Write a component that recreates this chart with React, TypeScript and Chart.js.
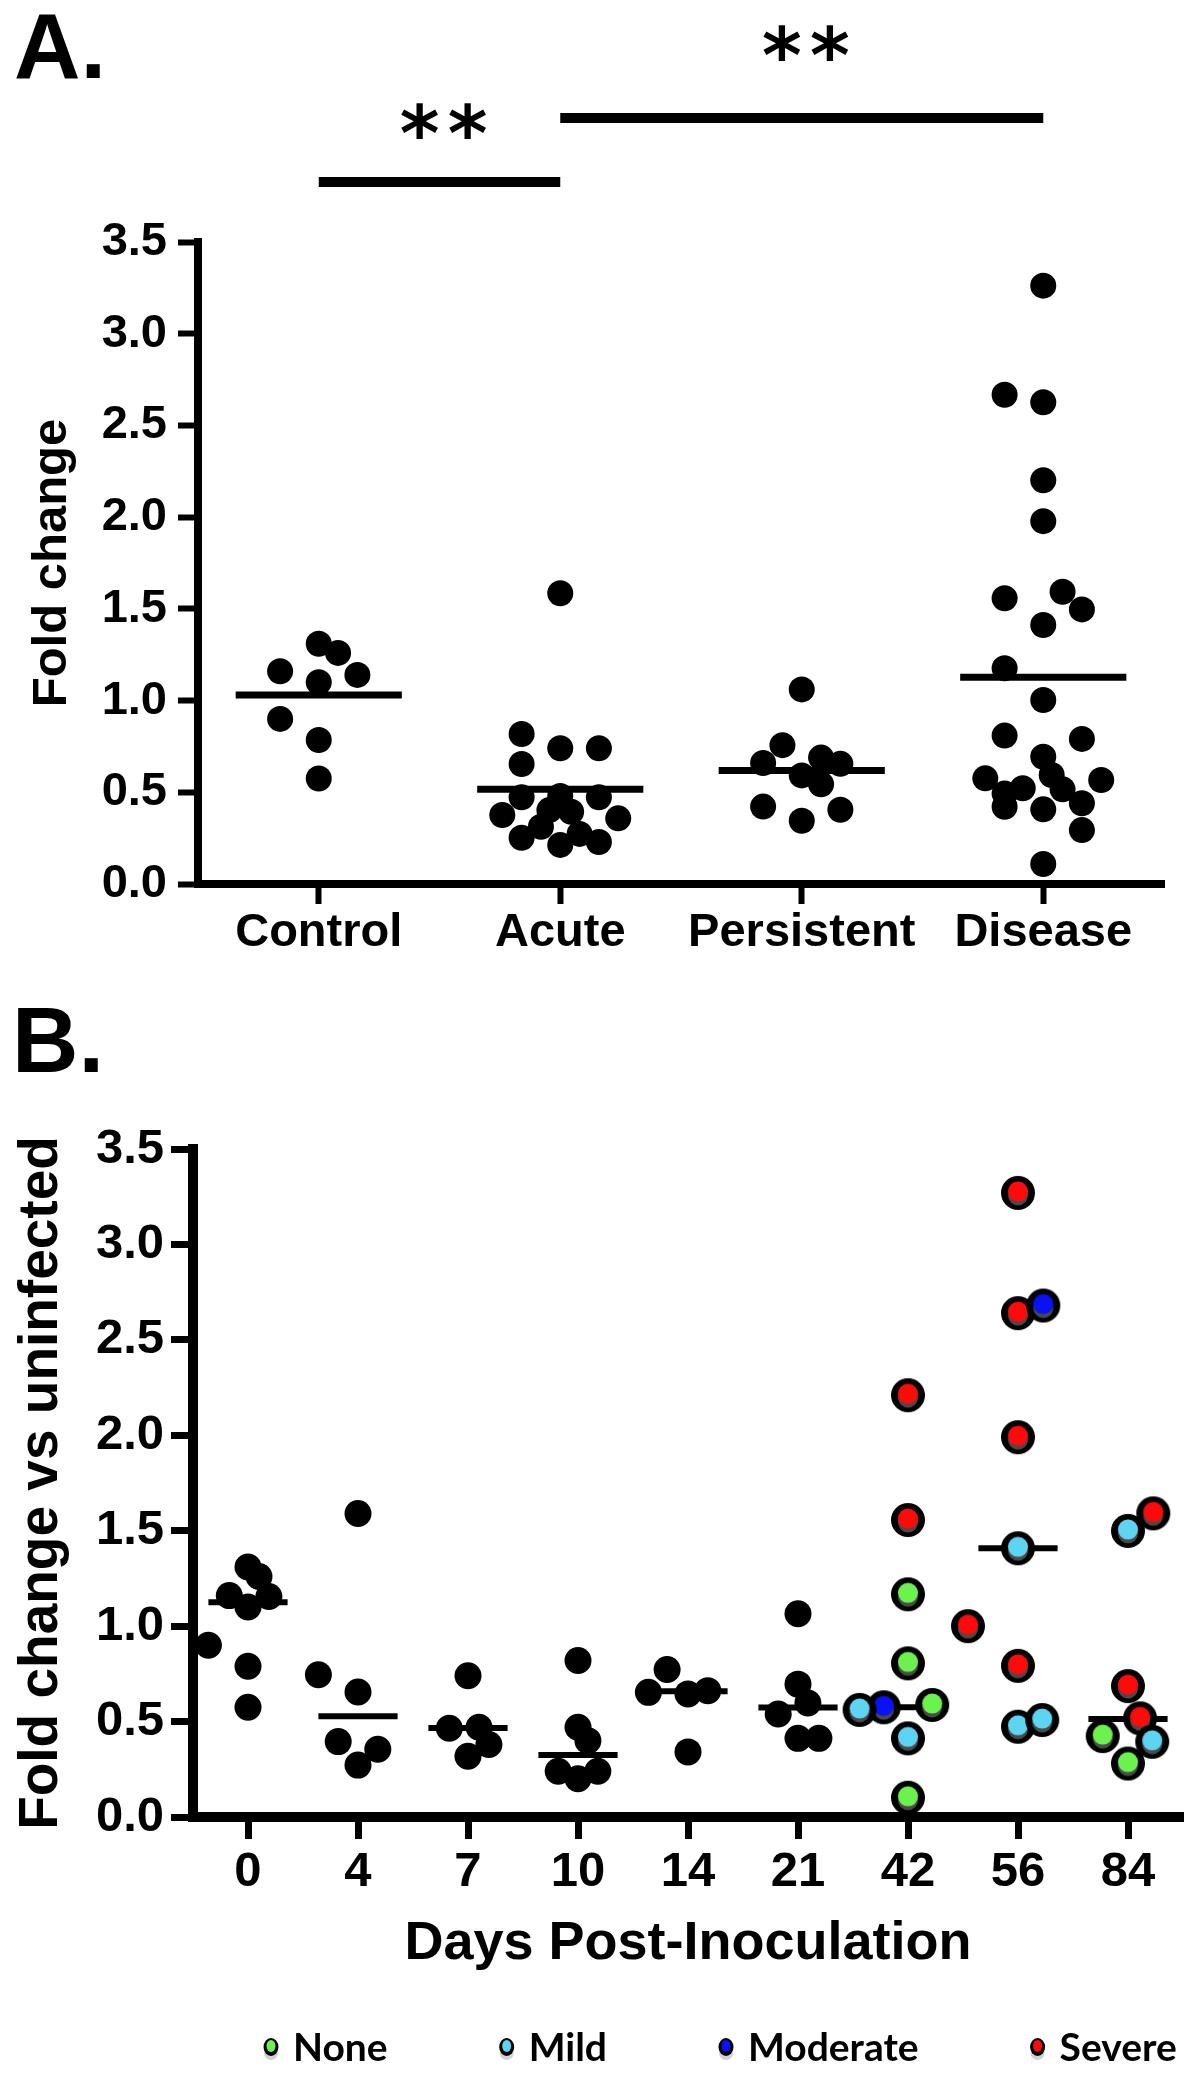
import React, { useEffect, useRef } from "react";
import { Chart, registerables } from "chart.js";

Chart.register(...registerables);

const FONT = "'Liberation Sans', Arial, Helvetica, sans-serif";
const LEGEND_FONT = "Lato, 'Open Sans', sans-serif";

// ---------------- Panel A data ----------------
const groupLabelsA = ["Control", "Acute", "Persistent", "Disease"];
const controlValues = [1.31, 1.26, 1.16, 1.14, 1.1, 0.9, 0.785, 0.575];
const controlJitter = [0, 0.08, -0.16, 0.16, 0, -0.16, 0, 0];
const acuteValues = [1.585, 0.818, 0.74, 0.74, 0.654, 0.473, 0.48, 0.473, 0.376, 0.403, 0.394, 0.358, 0.312, 0.252, 0.273, 0.213, 0.229];
const acuteJitter = [0, -0.16, 0, 0.16, -0.16, -0.16, 0, 0.16, -0.24, -0.045, 0.045, 0.24, -0.08, -0.16, 0.08, 0, 0.16];
const persistentValues = [1.061, 0.757, 0.66, 0.689, 0.655, 0.592, 0.544, 0.422, 0.405, 0.345];
const persistentJitter = [0, -0.08, -0.16, 0.08, 0.16, 0, 0.08, -0.16, 0.16, 0];
const diseaseValues = [3.262, 2.667, 2.626, 2.201, 1.978, 1.558, 1.593, 1.497, 1.412, 1.176, 1.003, 0.809, 0.791, 0.694, 0.576, 0.594, 0.567, 0.522, 0.516, 0.494, 0.421, 0.44, 0.407, 0.294, 0.109];
const diseaseJitter = [0, -0.16, 0, 0, 0, -0.16, 0.08, 0.16, 0, -0.16, 0, -0.16, 0.16, 0, -0.24, 0.035, 0.24, -0.085, 0.08, -0.16, -0.16, 0.16, 0, 0.16, 0];
const groupMeansA = [1.03, 0.516, 0.619, 1.127];
const comparisonsA = [
  { from: 0, to: 1, label: "**" },
  { from: 1, to: 3, label: "**" },
];

// ---------------- Panel B data ----------------
const dayLabels = ["0", "4", "7", "10", "14", "21", "42", "56", "84"];
const day0Values = [1.31, 1.26, 1.16, 1.1, 1.155, 0.9, 0.79, 0.575];
const day4Values = [1.59, 0.745, 0.655, 0.395, 0.355, 0.272];
const day7Values = [0.74, 0.465, 0.47, 0.38, 0.318];
const day10Values = [0.82, 0.47, 0.4, 0.24, 0.2, 0.24];
const day14Values = [0.773, 0.653, 0.645, 0.662, 0.341];
const day21Values = [1.065, 0.696, 0.54, 0.597, 0.412, 0.412];
const day42Values = [2.21, 1.556, 1.167, 0.805, 0.561, 0.575, 0.587, 0.412, 0.101];
const day56Values = [3.27, 2.64, 2.68, 1.99, 1.408, 1.0, 0.792, 0.473, 0.508];
const day84Values = [1.591, 1.499, 0.686, 0.517, 0.424, 0.394, 0.28];
const day0Jitter = [0, 0.1, -0.17, 0, 0.19, -0.36, 0, 0];
const day4Jitter = [0, -0.36, 0, -0.18, 0.18, 0];
const day7Jitter = [0, -0.17, 0.1, 0.19, 0];
const day10Jitter = [0, 0, 0.09, -0.18, 0, 0.18];
const day14Jitter = [-0.19, -0.36, 0, 0.18, 0];
const day21Jitter = [0, 0, -0.18, 0.09, 0, 0.19];
const day42Jitter = [0, 0, 0, 0, -0.44, -0.22, 0.22, 0, 0];
const day56Jitter = [0, 0, 0.23, 0, 0, -0.455, 0, 0, 0.22];
const day84Jitter = [0.23, 0, 0, 0.11, -0.23, 0.22, 0];
const day42Severity = ["Severe", "Severe", "None", "None", "Mild", "Moderate", "None", "Mild", "None"];
const day56Severity = ["Severe", "Severe", "Moderate", "Severe", "Mild", "Severe", "Severe", "Mild", "Mild"];
const day84Severity = ["Severe", "Mild", "Severe", "Severe", "None", "Mild", "None"];
const dayMedians = [1.125, 0.528, 0.466, 0.325, 0.659, 0.574, 0.575, 1.408, 0.514];
const severityLabels = ["None", "Mild", "Moderate", "Severe"];
const severityColors = ["#6cf24c", "#5cd4f2", "#0a12f5", "#ff0a0a"];

const yTickValues = [0, 0.5, 1, 1.5, 2, 2.5, 3, 3.5];

// ---------------- helpers ----------------
function circle(ctx: CanvasRenderingContext2D, x: number, y: number, r: number) {
  ctx.beginPath();
  ctx.arc(x, y, r, 0, Math.PI * 2);
  ctx.fill();
}

function makeMarker(color: string): HTMLCanvasElement {
  const outer = 17;
  const inner = 10;
  const size = 36;
  const c = document.createElement("canvas");
  c.width = size;
  c.height = size;
  const ctx = c.getContext("2d")!;
  const cx = size / 2;
  const cy = size / 2;
  ctx.fillStyle = "#000";
  circle(ctx, cx, cy, outer);
  ctx.fillStyle = "#4a4a4a";
  circle(ctx, cx, cy + 2.4, inner);
  ctx.fillStyle = color;
  circle(ctx, cx, cy - 1.4, inner);
  return c;
}

function axisCommon(tickLength: number, tickWidth: number, borderWidth: number) {
  return {
    grid: {
      drawOnChartArea: false,
      drawTicks: true,
      tickLength,
      tickWidth,
      tickColor: "#000",
    },
    border: { display: true, width: borderWidth, color: "#000" },
  };
}

const panelAPlugin = {
  id: "panelADecor",
  afterDraw(chart: any) {
    const { ctx } = chart;
    const x = chart.scales.x;
    ctx.save();
    ctx.fillStyle = "#000";
    ctx.textAlign = "left";
    ctx.textBaseline = "alphabetic";
    ctx.font = `bold 92px ${FONT}`;
    ctx.fillText("A.", 14, 78);

    const barY = [182, 118];
    const starBase = [160, 82];
    ctx.strokeStyle = "#000";
    ctx.lineWidth = 10;
    ctx.lineCap = "butt";
    comparisonsA.forEach((c, i) => {
      const x1 = x.getPixelForValue(c.from);
      const x2 = x.getPixelForValue(c.to);
      ctx.beginPath();
      ctx.moveTo(x1, barY[i]);
      ctx.lineTo(x2, barY[i]);
      ctx.stroke();
      const mid = (x1 + x2) / 2 + 4;
      ctx.font = `bold 76px 'DejaVu Sans', sans-serif`;
      ctx.textAlign = "center";
      const chars = c.label.split("");
      chars.forEach((ch, k) => {
        const off = (k - (chars.length - 1) / 2) * 48;
        ctx.fillText(ch, mid + off, starBase[i]);
      });
    });
    ctx.restore();
  },
};

const panelBPlugin = {
  id: "panelBDecor",
  afterDraw(chart: any) {
    const { ctx } = chart;
    ctx.save();
    ctx.fillStyle = "#000";
    ctx.textAlign = "left";
    ctx.textBaseline = "alphabetic";
    ctx.font = `bold 92px ${FONT}`;
    ctx.fillText("B.", 12, 82);

    // legend
    ctx.font = `bold 39px ${LEGEND_FONT}`;
    let lx = 271;
    const cy = 1057;
    severityLabels.forEach((lab, i) => {
      ctx.fillStyle = "#d2d2d2";
      ctx.beginPath();
      ctx.ellipse(lx, cy + 6, 7, 7, 0, 0, Math.PI * 2);
      ctx.fill();
      ctx.fillStyle = "#000";
      ctx.beginPath();
      ctx.ellipse(lx, cy, 7.5, 9, 0, 0, Math.PI * 2);
      ctx.fill();
      ctx.fillStyle = severityColors[i];
      ctx.beginPath();
      ctx.ellipse(lx, cy - 1, 4.5, 6, 0, 0, Math.PI * 2);
      ctx.fill();
      ctx.fillStyle = "#000";
      ctx.fillText(lab, lx + 22, 1071);
      lx += 22 + ctx.measureText(lab).width + 119;
    });
    ctx.restore();
  },
};

function buildChartA(canvas: HTMLCanvasElement) {
  const valuesA = [controlValues, acuteValues, persistentValues, diseaseValues];
  const jitterA = [controlJitter, acuteJitter, persistentJitter, diseaseJitter];
  const points = valuesA.flatMap((vals, gi) =>
    vals.map((v, k) => ({ x: gi + jitterA[gi][k], y: v }))
  );
  const halfW = 0.344;
  const meanSets = groupMeansA.map((m, gi) => ({
    label: `mean ${groupLabelsA[gi]}`,
    data: [
      { x: gi - halfW, y: m },
      { x: gi + halfW, y: m },
    ],
    showLine: true,
    borderColor: "#000",
    borderWidth: 7,
    borderCapStyle: "butt",
    pointRadius: 0,
    order: 2,
    clip: false,
  }));
  const tickFont = { family: FONT, size: 47, weight: "bold" as const };
  return new Chart(canvas, {
    type: "scatter",
    data: {
      datasets: [
        {
          label: "samples",
          data: points,
          pointStyle: "circle",
          pointRadius: 13,
          pointBackgroundColor: "#000",
          pointBorderWidth: 0,
          order: 0,
          clip: false,
        } as any,
        ...(meanSets as any[]),
      ],
    },
    options: {
      animation: false,
      responsive: false,
      devicePixelRatio: 1,
      events: [],
      layout: { padding: { top: 242, right: 36, left: 0, bottom: 0 } },
      plugins: { legend: { display: false }, tooltip: { enabled: false } },
      scales: {
        x: {
          type: "linear",
          min: -0.5,
          max: 3.5,
          afterBuildTicks: (s: any) => {
            s.ticks = groupLabelsA.map((_, i) => ({ value: i }));
          },
          afterFit: (s: any) => {
            s.height = 106;
          },
          ...axisCommon(20, 6, 8),
          ticks: {
            font: tickFont,
            color: "#000",
            padding: 1,
            maxRotation: 0,
            autoSkip: false,
            callback: (v: any) => groupLabelsA[Math.round(Number(v))] ?? "",
          },
        },
        y: {
          type: "linear",
          min: 0,
          max: 3.5,
          afterBuildTicks: (s: any) => {
            s.ticks = yTickValues.map((v) => ({ value: v }));
          },
          afterFit: (s: any) => {
            s.width = 198;
          },
          ...axisCommon(20, 6, 8),
          ticks: {
            font: tickFont,
            color: "#000",
            padding: 11,
            callback: (v: any) => Number(v).toFixed(1),
          },
          title: {
            display: true,
            text: "Fold change",
            color: "#000",
            font: { family: FONT, size: 49, weight: "bold" },
            padding: { top: 23, bottom: 0 },
          },
        },
      },
    } as any,
    plugins: [panelAPlugin],
  });
}

function buildChartB(canvas: HTMLCanvasElement) {
  const dayValues = [day0Values, day4Values, day7Values, day10Values, day14Values, day21Values, day42Values, day56Values, day84Values];
  const dayJitter = [day0Jitter, day4Jitter, day7Jitter, day10Jitter, day14Jitter, day21Jitter, day42Jitter, day56Jitter, day84Jitter];
  const daySeverity: (string[] | null)[] = [null, null, null, null, null, null, day42Severity, day56Severity, day84Severity];

  const blackPoints: { x: number; y: number }[] = [];
  const sevPoints: { x: number; y: number }[][] = severityLabels.map(() => []);
  dayValues.forEach((vals, di) => {
    vals.forEach((v, k) => {
      const p = { x: di + dayJitter[di][k], y: v };
      const sev = daySeverity[di];
      if (sev) {
        sevPoints[severityLabels.indexOf(sev[k])].push(p);
      } else {
        blackPoints.push(p);
      }
    });
  });
  const halfW = 0.36;
  const medianSets = dayMedians.map((m, di) => ({
    label: `median ${dayLabels[di]}`,
    data: [
      { x: di - halfW, y: m },
      { x: di + halfW, y: m },
    ],
    showLine: true,
    borderColor: "#000",
    borderWidth: 6,
    borderCapStyle: "butt",
    pointRadius: 0,
    order: 5,
    clip: false,
  }));
  const sevSets = severityLabels.map((lab, i) => ({
    label: lab,
    data: sevPoints[i],
    pointStyle: makeMarker(severityColors[i]),
    pointRadius: 16,
    order: 1,
    clip: false,
  }));
  const tickFont = { family: FONT, size: 49, weight: "bold" as const };
  return new Chart(canvas, {
    type: "scatter",
    data: {
      datasets: [
        {
          label: "uncoloured",
          data: blackPoints,
          pointStyle: "circle",
          pointRadius: 13.5,
          pointBackgroundColor: "#000",
          pointBorderWidth: 0,
          order: 0,
          clip: false,
        } as any,
        ...(sevSets as any[]),
        ...(medianSets as any[]),
      ],
    },
    options: {
      animation: false,
      responsive: false,
      devicePixelRatio: 1,
      events: [],
      layout: { padding: { top: 159, right: 3.5, left: 0, bottom: 0 } },
      plugins: { legend: { display: false }, tooltip: { enabled: false } },
      scales: {
        x: {
          type: "linear",
          min: -0.5,
          max: 8.5,
          afterBuildTicks: (s: any) => {
            s.ticks = dayLabels.map((_, i) => ({ value: i }));
          },
          afterFit: (s: any) => {
            s.height = 258;
          },
          ...axisCommon(22, 7, 10),
          ticks: {
            font: tickFont,
            color: "#000",
            padding: 4,
            maxRotation: 0,
            autoSkip: false,
            callback: (v: any) => dayLabels[Math.round(Number(v))] ?? "",
          },
          title: {
            display: true,
            text: "Days Post-Inoculation",
            color: "#000",
            font: { family: FONT, size: 54, weight: "bold" },
            padding: { top: 0, bottom: 98 },
          },
        },
        y: {
          type: "linear",
          min: 0,
          max: 3.5,
          afterBuildTicks: (s: any) => {
            s.ticks = yTickValues.map((v) => ({ value: v }));
          },
          afterFit: (s: any) => {
            s.width = 193;
          },
          ...axisCommon(22, 7, 10),
          ticks: {
            font: tickFont,
            color: "#000",
            padding: 7,
            callback: (v: any) => Number(v).toFixed(1),
          },
          title: {
            display: true,
            text: "Fold change vs uninfected",
            color: "#000",
            font: { family: FONT, size: 55, weight: "bold" },
            padding: { top: 9, bottom: 0 },
          },
        },
      },
    } as any,
    plugins: [panelBPlugin],
  });
}

export default function App() {
  const refA = useRef<HTMLCanvasElement>(null);
  const refB = useRef<HTMLCanvasElement>(null);
  useEffect(() => {
    Chart.defaults.font.family = FONT;
    Chart.defaults.color = "#000";
    const a = buildChartA(refA.current!);
    const b = buildChartB(refB.current!);
    return () => {
      a.destroy();
      b.destroy();
    };
  }, []);
  return (
    <div
      style={{
        position: "absolute",
        left: 0,
        top: 0,
        width: 1200,
        height: 2075,
        background: "#fff",
        overflow: "hidden",
      }}
    >
      <canvas
        ref={refA}
        width={1200}
        height={990}
        style={{ position: "absolute", left: 0, top: 0, width: 1200, height: 990 }}
      />
      <canvas
        ref={refB}
        width={1200}
        height={1085}
        style={{ position: "absolute", left: 0, top: 990, width: 1200, height: 1085 }}
      />
    </div>
  );
}
